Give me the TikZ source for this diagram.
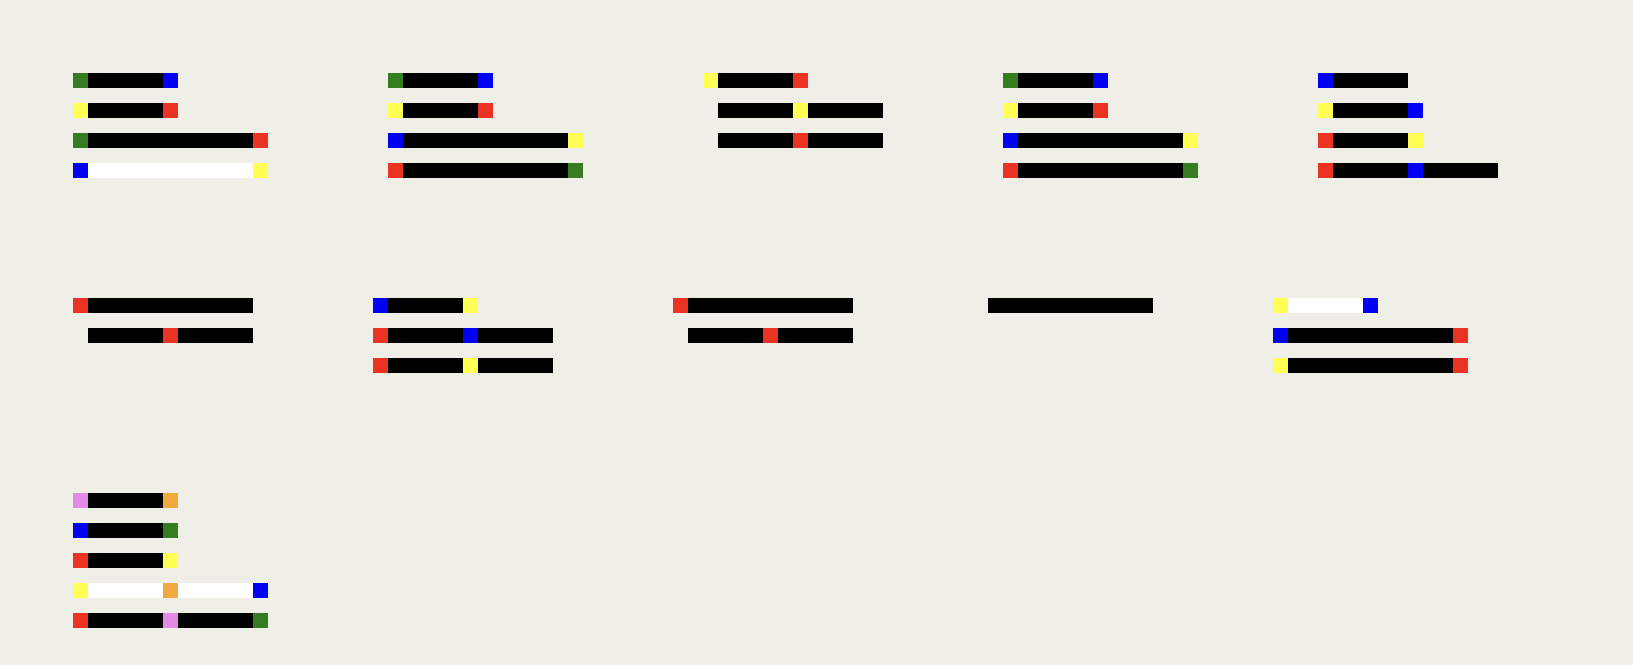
\documentclass[tikz,border=0pt]{standalone}
\definecolor{bg}{RGB}{239,239,231}
\definecolor{cg}{RGB}{54,125,34}
\definecolor{cr}{RGB}{235,51,35}
\definecolor{cb}{RGB}{0,0,245}
\definecolor{cy}{RGB}{255,255,85}
\definecolor{co}{RGB}{241,170,64}
\definecolor{cv}{RGB}{225,138,230}
\newcommand\seg[4]{\fill[#1] (#2,#3) rectangle (#4,#3+15);}
\newcommand\sqr[3]{\fill[#1] (#2,#3) rectangle ++(15,15);}
\begin{document}
\begin{tikzpicture}[x=1pt,y=-1pt]
\fill[bg] (0,0) rectangle (1633,665);
\useasboundingbox (0,0) rectangle (1633,665);
% ---- Row 1, group 1
\sqr{cg}{73}{73}\seg{black}{88}{73}{163}\sqr{cb}{163}{73}
\sqr{cy}{73}{103}\seg{black}{88}{103}{163}\sqr{cr}{163}{103}
\sqr{cg}{73}{133}\seg{black}{88}{133}{253}\sqr{cr}{253}{133}
\sqr{cb}{73}{163}\seg{white}{88}{163}{253}\sqr{cy}{253}{163}
% ---- Row 1, group 2
\sqr{cg}{388}{73}\seg{black}{403}{73}{478}\sqr{cb}{478}{73}
\sqr{cy}{388}{103}\seg{black}{403}{103}{478}\sqr{cr}{478}{103}
\sqr{cb}{388}{133}\seg{black}{403}{133}{568}\sqr{cy}{568}{133}
\sqr{cr}{388}{163}\seg{black}{403}{163}{568}\sqr{cg}{568}{163}
% ---- Row 1, group 3
\sqr{cy}{703}{73}\seg{black}{718}{73}{793}\sqr{cr}{793}{73}
\seg{black}{718}{103}{793}\sqr{cy}{793}{103}\seg{black}{808}{103}{883}
\seg{black}{718}{133}{793}\sqr{cr}{793}{133}\seg{black}{808}{133}{883}
% ---- Row 1, group 4
\sqr{cg}{1003}{73}\seg{black}{1018}{73}{1093}\sqr{cb}{1093}{73}
\sqr{cy}{1003}{103}\seg{black}{1018}{103}{1093}\sqr{cr}{1093}{103}
\sqr{cb}{1003}{133}\seg{black}{1018}{133}{1183}\sqr{cy}{1183}{133}
\sqr{cr}{1003}{163}\seg{black}{1018}{163}{1183}\sqr{cg}{1183}{163}
% ---- Row 1, group 5
\sqr{cb}{1318}{73}\seg{black}{1333}{73}{1408}
\sqr{cy}{1318}{103}\seg{black}{1333}{103}{1408}\sqr{cb}{1408}{103}
\sqr{cr}{1318}{133}\seg{black}{1333}{133}{1408}\sqr{cy}{1408}{133}
\sqr{cr}{1318}{163}\seg{black}{1333}{163}{1408}\sqr{cb}{1408}{163}\seg{black}{1423}{163}{1498}
% ---- Row 2, group 1
\sqr{cr}{73}{298}\seg{black}{88}{298}{253}
\seg{black}{88}{328}{163}\sqr{cr}{163}{328}\seg{black}{178}{328}{253}
% ---- Row 2, group 2
\sqr{cb}{373}{298}\seg{black}{388}{298}{463}\sqr{cy}{463}{298}
\sqr{cr}{373}{328}\seg{black}{388}{328}{463}\sqr{cb}{463}{328}\seg{black}{478}{328}{553}
\sqr{cr}{373}{358}\seg{black}{388}{358}{463}\sqr{cy}{463}{358}\seg{black}{478}{358}{553}
% ---- Row 2, group 3
\sqr{cr}{673}{298}\seg{black}{688}{298}{853}
\seg{black}{688}{328}{763}\sqr{cr}{763}{328}\seg{black}{778}{328}{853}
% ---- Row 2, group 4
\seg{black}{988}{298}{1153}
% ---- Row 2, group 5
\sqr{cy}{1273}{298}\seg{white}{1288}{298}{1363}\sqr{cb}{1363}{298}
\sqr{cb}{1273}{328}\seg{black}{1288}{328}{1453}\sqr{cr}{1453}{328}
\sqr{cy}{1273}{358}\seg{black}{1288}{358}{1453}\sqr{cr}{1453}{358}
% ---- Row 3, group 1
\sqr{cv}{73}{493}\seg{black}{88}{493}{163}\sqr{co}{163}{493}
\sqr{cb}{73}{523}\seg{black}{88}{523}{163}\sqr{cg}{163}{523}
\sqr{cr}{73}{553}\seg{black}{88}{553}{163}\sqr{cy}{163}{553}
\sqr{cy}{73}{583}\seg{white}{88}{583}{163}\sqr{co}{163}{583}\seg{white}{178}{583}{253}\sqr{cb}{253}{583}
\sqr{cr}{73}{613}\seg{black}{88}{613}{163}\sqr{cv}{163}{613}\seg{black}{178}{613}{253}\sqr{cg}{253}{613}
\end{tikzpicture}
\end{document}
